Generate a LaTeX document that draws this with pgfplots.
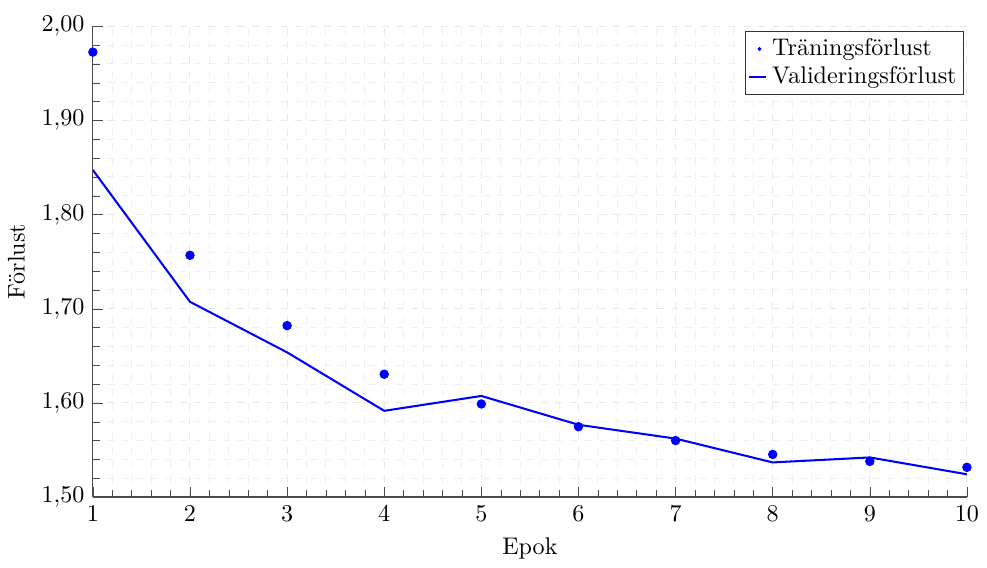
\documentclass[border=0pt]{standalone}
\usepackage{pgfplots}
\pgfplotsset{compat=1.18}
\begin{document}
\begin{tikzpicture}
\begin{axis}[
  scale only axis,
  width=363pt, height=195.5pt,
  xmin=1, xmax=10, ymin=1.5, ymax=2.0,
  xtick={1,2,...,10},
  ytick={1.5,1.6,...,2.0},
  minor x tick num=4, minor y tick num=4,
  axis lines*=left,
  axis line style={black!70, line width=0.5pt},
  tick style={black!70},
  tick align=inside,
  major grid style={dashed, black!9},
  minor grid style={dashed, black!6},
  grid=both,
  yticklabel style={/pgf/number format/.cd, fixed, fixed zerofill, precision=2, use comma},
  xlabel={Epok}, ylabel={F\"orlust},
  legend style={at={(0.997,0.99)}, anchor=north east, draw=black!80, fill=white,
    inner sep=1pt, row sep=-1pt, font=\normalsize},
  legend cell align=left,
]
\addplot[only marks, mark=*, color=blue, mark size=1.75pt,
  legend image code/.code={\fill[blue] (0.15cm,0cm) circle (0.6pt);}]
coordinates {(1,1.9726) (2,1.7568) (3,1.6821) (4,1.6305) (5,1.5989)
  (6,1.5747) (7,1.5600) (8,1.5453) (9,1.5379) (10,1.5316)};
\addlegendentry{Tr\"aningsf\"orlust}
\addplot[color=blue, line width=0.85pt, mark=none,
  legend image code/.code={\draw[blue, line width=0.85pt] (0cm,0cm) -- (0.25cm,0cm);}]
coordinates {(1,1.8474) (2,1.7074) (3,1.6537) (4,1.5916) (5,1.6074)
  (6,1.5768) (7,1.5621) (8,1.5368) (9,1.5421) (10,1.5242)};
\addlegendentry{Valideringsf\"orlust}
\end{axis}
\path ([yshift=3.4pt]current bounding box.north);
\end{tikzpicture}
\end{document}
